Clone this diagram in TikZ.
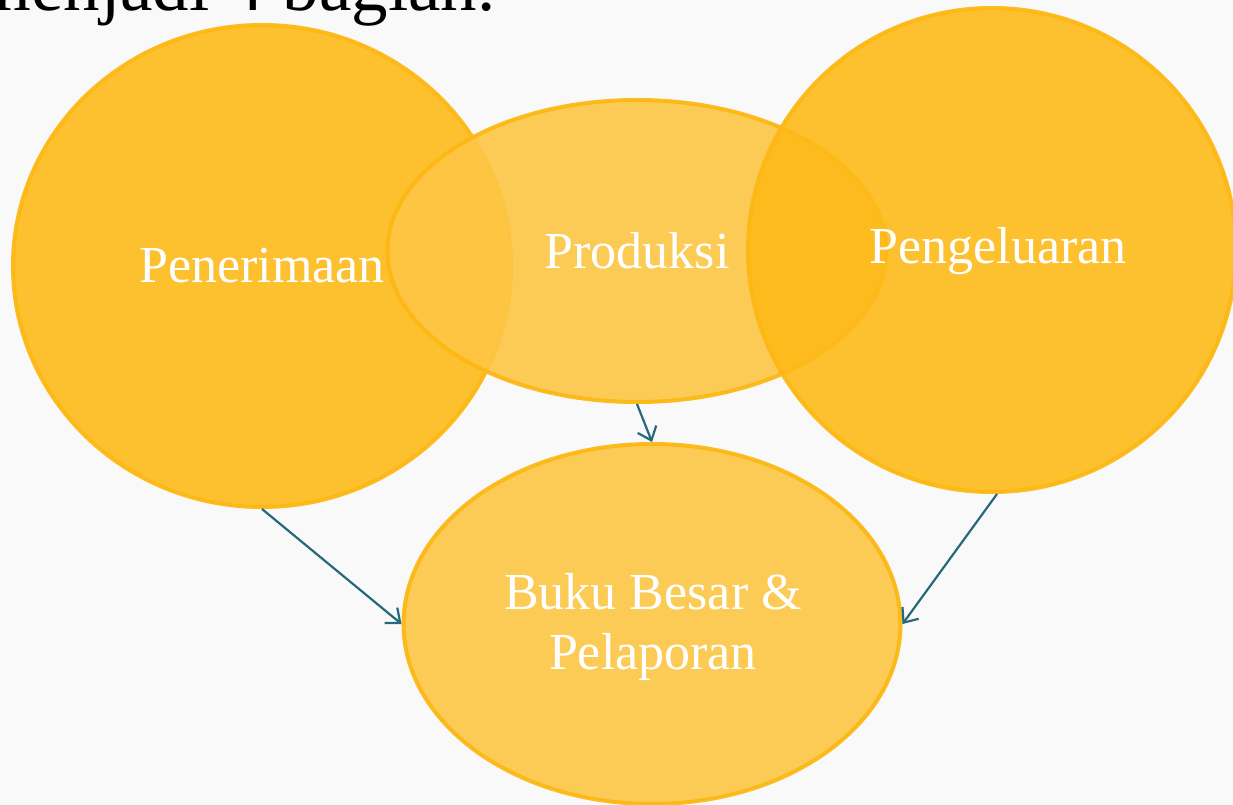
\documentclass[tikz,border=0pt]{standalone}
\usepackage{fontspec}
\setmainfont{Liberation Serif}
\usetikzlibrary{shapes.geometric,arrows.meta}
\definecolor{bgc}{HTML}{F9F9F9}
\definecolor{deepfill}{HTML}{FEBA18}
\definecolor{lightfill}{HTML}{FDC645}
\definecolor{rimc}{HTML}{FDB813}
\definecolor{arrc}{HTML}{27697A}
\tikzset{
  bubble/.style={ellipse, inner sep=0pt, draw=rimc, line width=4pt,
    fill opacity=0.9, draw opacity=0.95},
  bigbubble/.style={bubble, fill=deepfill},
  softbubble/.style={bubble, fill=lightfill},
  label/.style={text=white, font=\fontsize{52}{60}\selectfont, align=center},
  link/.style={draw=arrc, line width=2.2pt, -{Straight Barb[length=12pt,width=20pt,line width=2.2pt]}}
}
\begin{document}
\begin{tikzpicture}[x=1pt,y=-1pt]
\useasboundingbox (0,0) rectangle (1233,805);
\clip (0,0) rectangle (1233,805);
\fill[bgc] (0,0) rectangle (1233,805);
\node[anchor=base east, font=\fontsize{73}{80}\selectfont, text=black] (title) at (499,11) {menjadi 4 bagian.};
\node[bigbubble, minimum width=498pt, minimum height=482pt] (pen) at (262,266) {};
\node[softbubble, minimum width=499pt, minimum height=302pt] (pro) at (637,251) {};
\node[bigbubble, minimum width=488pt, minimum height=484pt] (pgl) at (992,250) {};
\node[softbubble, minimum width=497pt, minimum height=360pt] (buku) at (652,624) {};
\node[label] (tpen) at (262,266) {Penerimaan};
\node[label] (tpro) at (637,251) {Produksi};
\node[label] (tpgl) at (998,251) {Pengeluaran};
\node[label] (tbuku) at (653,627) {Buku Besar \&\\Pelaporan};
\draw[link] (pen.south) -- (buku.west);
\draw[link] (pro.south) -- (buku.north);
\draw[link] ([xshift=5pt]pgl.south) -- (buku.east);
\end{tikzpicture}
\end{document}
